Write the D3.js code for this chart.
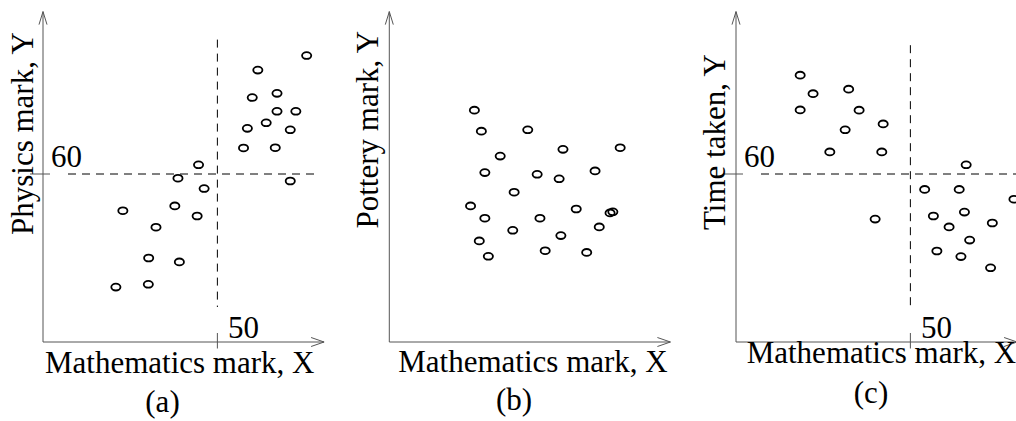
<!DOCTYPE html>
<html>
<head>
<meta charset="utf-8">
<script src="https://cdn.jsdelivr.net/npm/d3@7"></script>
<style>
  body { margin: 0; background: #fff; }
  text { font-family: "Liberation Serif", "Times New Roman", serif; fill: #000; }
</style>
</head>
<body>
<svg id="chart"></svg>
<script>
// Data (unitless marks)
// (a) maths vs physics
var mathA = [75.6, 61.6, 60.0, 67.1, 67.1, 72.5, 64.0, 58.6, 70.9, 57.5, 66.6, 70.9,
  44.6, 38.7, 46.2, 22.9, 37.8, 44.2, 32.4, 30.3, 39.1, 20.9, 30.2];
var physicsA = [102.3, 97.1, 87.3, 88.8, 82.4, 82.4, 78.3, 76.3, 75.8, 69.3, 69.4, 57.5,
  63.3, 58.5, 54.8, 46.9, 48.6, 45.0, 41.0, 30.0, 28.6, 19.6, 20.6];

// (b) maths vs pottery
var mathB = [24.4, 26.4, 39.7, 31.8, 49.8, 66.2, 27.4, 42.4, 48.7, 59.0, 35.8, 23.3,
  27.4, 43.2, 53.6, 63.3, 64.1, 35.4, 49.2, 60.2, 25.8, 28.4, 44.7, 56.6];
var potteryB = [82.8, 75.3, 75.8, 66.4, 68.8, 69.4, 60.5, 59.9, 58.3, 61.1, 53.5, 48.6,
  44.2, 44.2, 47.5, 46.1, 46.5, 39.9, 38.0, 41.1, 36.1, 30.6, 32.6, 32.0];

// (c) maths vs time taken
var mathC = [18.4, 22.1, 32.3, 18.4, 35.3, 42.2, 31.3, 26.9, 41.8, 66.0, 39.9, 54.1,
  64.0, 79.7, 56.6, 65.5, 61.1, 73.5, 67.0, 57.6, 64.5, 73.0];
var timeC = [95.3, 88.7, 90.3, 82.9, 82.8, 77.9, 75.8, 67.9, 67.9, 63.3, 43.9, 54.5,
  54.5, 51.0, 45.0, 46.4, 41.1, 42.5, 36.4, 32.5, 30.5, 26.5];

var xLabels = ["Mathematics mark, X", "Mathematics mark, X", "Mathematics mark, X"];
var yLabels = ["Physics mark, Y", "Pottery mark, Y", "Time taken, Y"];
var captions = ["(a)", "(b)", "(c)"];
var refX = [50, null, 50];
var refY = [60, null, 60];

// Chart params
var svgWidth = 1016;
var svgHeight = 421;

var svg = d3.select("#chart")
  .attr("width", svgWidth)
  .attr("height", svgHeight);

// shared scales, each panel is shifted by its own left offset
var xScale = d3.scaleLinear().domain([0, 80]).range([0, 279]);
var yScale = d3.scaleLinear().domain([0, 118]).range([342, 11.6]);
var xEnd = 80.6;
var yEnd = 118;

var panels = [
  { left: 43, xs: mathA, ys: physicsA, xl: [2, 373], yl: [-10, 235], cap: [119.5, 412], dashTop: 108, hEnd: 79.4 },
  { left: 389.3, xs: mathB, ys: potteryB, xl: [9, 372], yl: [-11, 228.5], cap: [124.7, 410], dashTop: 0, hEnd: 0 },
  { left: 736, xs: mathC, ys: timeC, xl: [10.7, 363], yl: [-11, 230], cap: [135, 403], dashTop: 106, hEnd: 82 }
];

var axisColor = "#555";

panels.forEach(function(p, i) {
  var g = svg.append("g").attr("transform", `translate(${p.left}, 0)`);

  // reference lines at X = 50 and Y = 60
  if (refX[i] != null) {
    g.append("line")
      .attr("x1", xScale(refX[i])).attr("x2", xScale(refX[i]))
      .attr("y1", yScale(p.dashTop)).attr("y2", yScale(12.5))
      .attr("stroke", "#000").attr("stroke-dasharray", "8,6");
    g.append("line")
      .attr("x1", xScale(refX[i])).attr("x2", xScale(refX[i]))
      .attr("y1", yScale(0) - 9).attr("y2", yScale(0) + 6.5)
      .attr("stroke", axisColor);
    g.append("text")
      .attr("x", xScale(refX[i]) + 10.5)
      .attr("y", yScale(0) - 4)
      .style("font-size", "31px")
      .text(refX[i]);
  }
  if (refY[i] != null) {
    g.append("line")
      .attr("x1", 25).attr("x2", xScale(p.hEnd))
      .attr("y1", yScale(refY[i])).attr("y2", yScale(refY[i]))
      .attr("stroke", "#000").attr("stroke-dasharray", "8,6");
    g.append("line")
      .attr("x1", -13).attr("x2", 7)
      .attr("y1", yScale(refY[i])).attr("y2", yScale(refY[i]))
      .attr("stroke", axisColor);
    g.append("text")
      .attr("x", 8)
      .attr("y", yScale(refY[i]) - 7)
      .style("font-size", "31px")
      .text(refY[i]);
  }

  // axes with open arrow heads
  var x0 = xScale(0), y0 = yScale(0), xt = xScale(xEnd), yt = yScale(yEnd);
  g.append("path")
    .attr("d", `M${x0},${y0}H${xt}M${x0},${y0}V${yt}`)
    .attr("stroke", axisColor).attr("fill", "none");
  g.append("path")
    .attr("d", `M${xt - 13},${y0 - 4.5}L${xt},${y0}L${xt - 13},${y0 + 4.5}` +
               `M${x0 - 4},${yt + 13}L${x0},${yt}L${x0 + 4},${yt + 13}`)
    .attr("stroke", axisColor).attr("fill", "none");

  // points
  g.selectAll("ellipse")
    .data(d3.range(p.xs.length))
    .enter()
    .append("ellipse")
    .attr("cx", d => xScale(p.xs[d]))
    .attr("cy", d => yScale(p.ys[d]))
    .attr("rx", 4.6)
    .attr("ry", 3.4)
    .attr("fill", "none")
    .attr("stroke", "#000")
    .attr("stroke-width", 1.8);

  // axis titles
  g.append("text")
    .attr("x", p.xl[0]).attr("y", p.xl[1])
    .style("font-size", "31px")
    .text(xLabels[i]);

  g.append("text")
    .attr("transform", `translate(${p.yl[0]}, ${p.yl[1]}) rotate(-90)`)
    .style("font-size", "31px")
    .text(yLabels[i]);

  g.append("text")
    .attr("x", p.cap[0]).attr("y", p.cap[1])
    .attr("text-anchor", "middle")
    .style("font-size", "31px")
    .text(captions[i]);
});
</script>
</body>
</html>
